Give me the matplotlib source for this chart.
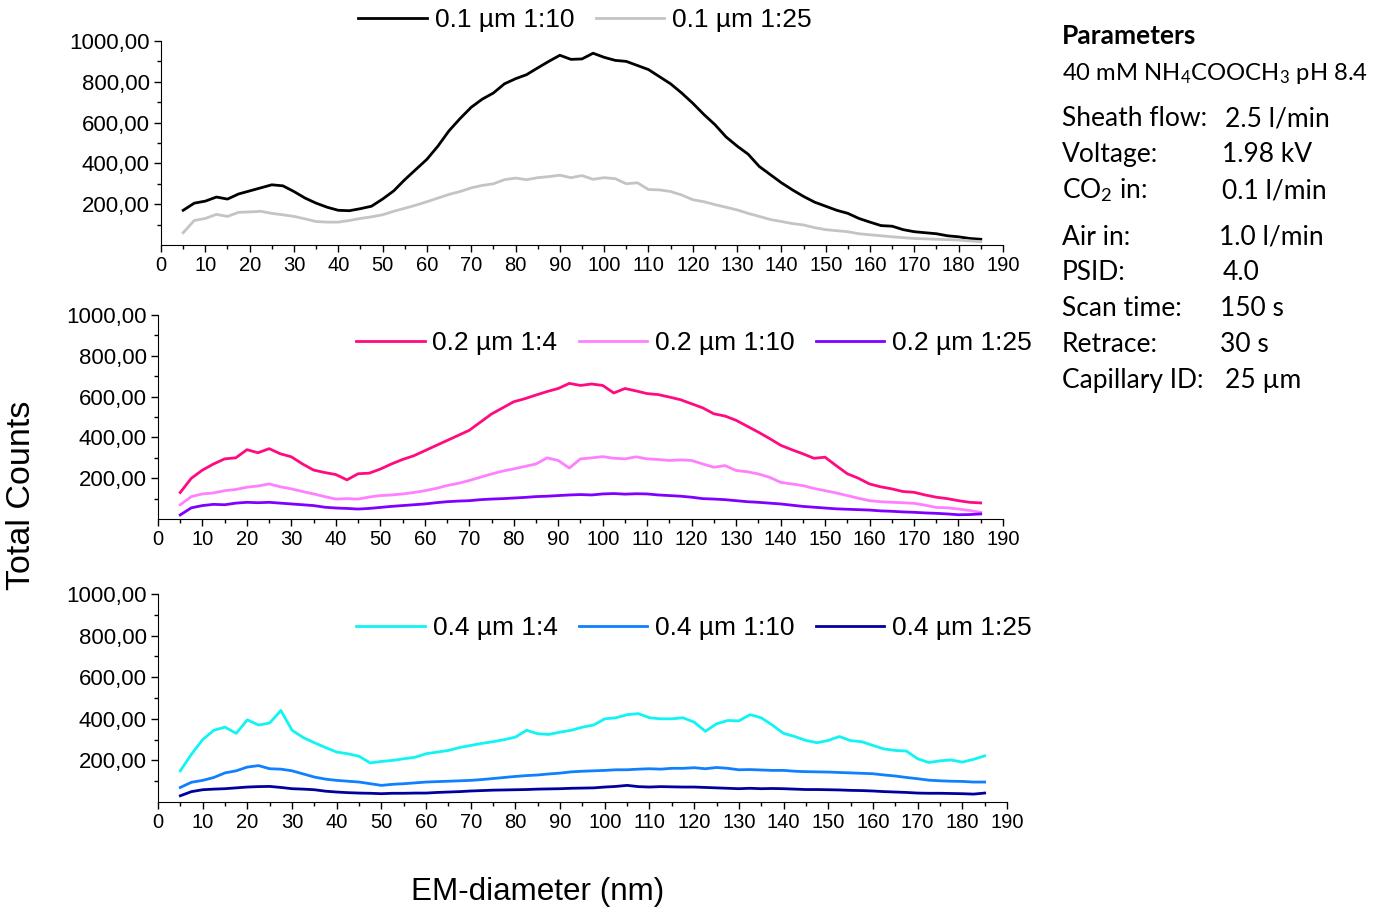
import numpy as np
import matplotlib
matplotlib.use("Agg")
import matplotlib.pyplot as plt
from matplotlib.ticker import MultipleLocator, FixedLocator, FuncFormatter

plt.rcParams['font.family'] = ['Liberation Sans', 'DejaVu Sans']
plt.rcParams['mathtext.fontset'] = 'custom'
plt.rcParams['mathtext.rm'] = 'Lato'
plt.rcParams['mathtext.it'] = 'Lato:italic'
plt.rcParams['mathtext.bf'] = 'Lato:bold'

# EM-diameter grid (nm)
x = np.arange(5, 185.1, 2.5)

# 0.1 um
c01_10 = [170, 205, 215, 235, 225, 250, 265, 280, 295, 290, 262, 230, 205, 185, 170, 168, 178, 190,
          225, 265, 320, 370, 420, 485, 560, 620, 675, 715, 745, 790, 815, 835, 868, 900, 930, 910,
          912, 940, 920, 905, 900, 880, 860, 825, 790, 745, 695, 640, 590, 530, 485, 445, 385, 345,
          305, 270, 238, 210, 190, 170, 155, 130, 112, 95, 92, 75, 65, 60, 55, 45, 40, 32, 28]
c01_25 = [60, 120, 130, 150, 140, 160, 162, 165, 155, 148, 140, 128, 115, 112, 112, 120, 130, 138,
          148, 165, 180, 195, 212, 230, 248, 262, 280, 292, 300, 320, 328, 320, 330, 335, 342, 330,
          340, 322, 330, 325, 300, 305, 272, 270, 262, 245, 222, 212, 198, 185, 172, 155, 140, 125,
          115, 105, 98, 85, 75, 70, 65, 55, 50, 45, 40, 36, 32, 30, 28, 26, 24, 20, 16]

# 0.2 um
c02_4 = [130, 200, 240, 270, 295, 300, 340, 325, 345, 320, 305, 270, 240, 228, 218, 192, 222, 225,
         245, 270, 292, 310, 335, 360, 385, 410, 435, 475, 515, 545, 575, 590, 608, 625, 640, 665,
         655, 662, 655, 618, 640, 628, 615, 610, 598, 585, 565, 545, 516, 505, 484, 455, 426, 395,
         362, 340, 320, 298, 303, 262, 222, 200, 172, 158, 148, 135, 131, 118, 107, 100, 90, 82, 79]
c02_10 = [70, 110, 123, 128, 139, 145, 156, 162, 172, 158, 148, 135, 123, 110, 98, 100, 98, 108,
          115, 118, 123, 130, 139, 150, 164, 175, 189, 205, 221, 235, 246, 258, 270, 300, 287, 250,
          295, 300, 306, 298, 295, 305, 295, 292, 287, 290, 287, 270, 254, 262, 238, 232, 221, 205,
          180, 172, 164, 150, 139, 128, 115, 102, 90, 85, 82, 80, 77, 68, 57, 55, 49, 42, 33]
c02_25 = [20, 55, 66, 72, 70, 78, 82, 80, 82, 78, 74, 70, 66, 58, 54, 52, 49, 52,
          57, 62, 66, 70, 74, 80, 85, 88, 90, 95, 98, 100, 103, 106, 110, 112, 115, 118,
          120, 118, 123, 125, 122, 124, 123, 118, 115, 112, 107, 100, 98, 95, 90, 85, 82, 78,
          74, 68, 62, 58, 54, 50, 48, 46, 44, 40, 38, 35, 33, 30, 28, 25, 21, 22, 25]

# 0.4 um
c04_4 = [150, 230, 300, 345, 360, 330, 395, 370, 380, 440, 345, 310, 285, 262, 240, 232, 220, 188,
         195, 200, 208, 215, 232, 240, 248, 262, 272, 282, 290, 300, 312, 345, 328, 325, 336, 345,
         360, 370, 400, 405, 420, 425, 405, 400, 400, 405, 384, 340, 376, 392, 390, 420, 405, 370,
         330, 315, 296, 285, 296, 315, 295, 290, 272, 255, 248, 245, 208, 190, 198, 202, 192, 205, 222]
c04_10 = [70, 95, 104, 118, 140, 150, 168, 175, 160, 158, 150, 135, 120, 110, 104, 100, 96, 88,
          80, 85, 88, 92, 96, 98, 100, 102, 104, 108, 113, 118, 123, 127, 130, 135, 139, 145,
          148, 150, 152, 155, 155, 158, 160, 158, 162, 162, 165, 160, 166, 162, 155, 156, 154, 152,
          152, 148, 146, 145, 144, 142, 140, 138, 136, 130, 125, 118, 112, 105, 102, 100, 99, 96, 96]
c04_25 = [30, 50, 59, 62, 64, 68, 72, 74, 75, 70, 64, 62, 59, 52, 48, 45, 43, 42,
          40, 42, 42, 43, 43, 46, 48, 50, 53, 55, 57, 58, 59, 60, 62, 63, 64, 66,
          67, 68, 72, 75, 80, 74, 72, 74, 73, 72, 72, 70, 68, 66, 64, 66, 64, 65,
          64, 62, 60, 60, 59, 58, 56, 55, 53, 50, 48, 46, 43, 42, 42, 41, 40, 38, 43]

panels = [
    [(c01_10, 'black', '0.1 µm 1:10'), (c01_25, '#c4c4c4', '0.1 µm 1:25')],
    [(c02_4, '#ff0a80', '0.2 µm 1:4'), (c02_10, '#ff80ff', '0.2 µm 1:10'),
     (c02_25, '#8000ff', '0.2 µm 1:25')],
    [(c04_4, '#10f4f4', '0.4 µm 1:4'), (c04_10, '#1080ff', '0.4 µm 1:10'),
     (c04_25, '#00009c', '0.4 µm 1:25')],
]
# axes boxes (fig fraction) and legend centres
boxes = [[0.1161, 0.7305, 0.607, 0.2244],
         [0.1139, 0.4290, 0.6092, 0.2244],
         [0.1139, 0.1177, 0.6121, 0.2288]]
leg_pos = [(0.4218, 0.978), (0.5004, 0.6227), (0.5004, 0.309)]

fig = plt.figure(figsize=(13.87, 9.09), dpi=100)

for box, series, lp in zip(boxes, panels, leg_pos):
    ax = fig.add_axes(box)
    for y, col, lab in series:
        ax.plot(x, y, color=col, lw=2.0, label=lab)
    ax.set_xlim(0, 190)
    ax.set_ylim(0, 1000)
    ax.spines['top'].set_visible(False)
    ax.spines['right'].set_visible(False)
    ax.xaxis.set_major_locator(MultipleLocator(10))
    ax.xaxis.set_minor_locator(MultipleLocator(5))
    ax.yaxis.set_major_locator(FixedLocator([200, 400, 600, 800, 1000]))
    ax.yaxis.set_minor_locator(FixedLocator([100, 300, 500, 700, 900]))
    ax.yaxis.set_major_formatter(FuncFormatter(lambda v, p: f"{v:.2f}".replace('.', ',')))
    ax.tick_params(axis='both', which='major', length=5, width=1)
    ax.tick_params(axis='both', which='minor', length=3, width=1)
    ax.tick_params(axis='x', labelsize=14.5, pad=3)
    ax.tick_params(axis='y', labelsize=16, pad=3)
    ax.legend(loc='center', bbox_to_anchor=lp, bbox_transform=fig.transFigure,
              ncol=len(series), frameon=False, fontsize=19, handlelength=2.6,
              handletextpad=0.3, columnspacing=0.8, borderpad=0)

fig.text(22 / 1387, 1 - 495 / 909, 'Total Counts', rotation=90, fontsize=24.5,
         ha='center', va='center')
fig.text(538 / 1387, 1 - 892 / 909, 'EM-diameter (nm)', fontsize=22.6,
         ha='center', va='center')

# parameter box
pfont = dict(family='Lato', fontsize=19, va='baseline')
fig.text(1062 / 1387, 1 - 44 / 909, 'Parameters', fontweight='bold', **pfont)
fig.text(1062 / 1387, 1 - 80 / 909, r'40 mM NH$_4$COOCH$_3$ pH 8.4',
         family='Lato', fontsize=17.2, va='baseline')
names = ['Sheath flow:', 'Voltage:', r'CO$_2$ in:', 'Air in:', 'PSID:',
         'Scan time:', 'Retrace:', 'Capillary ID:']
values = ['2.5 l/min', '1.98 kV', '0.1 l/min', '1.0 l/min', '4.0', '150 s', '30 s', '25 µm']
val_x = [1225, 1222, 1222, 1219, 1223, 1220, 1220, 1225]
rows_y = [126, 162, 198, 245, 280, 316, 352, 388]
for n, v, vx, ry in zip(names, values, val_x, rows_y):
    fig.text(1062 / 1387, 1 - ry / 909, n, **pfont)
    fig.text(vx / 1387, 1 - ry / 909, v, **pfont)

fig.savefig('out.png', dpi=100)
